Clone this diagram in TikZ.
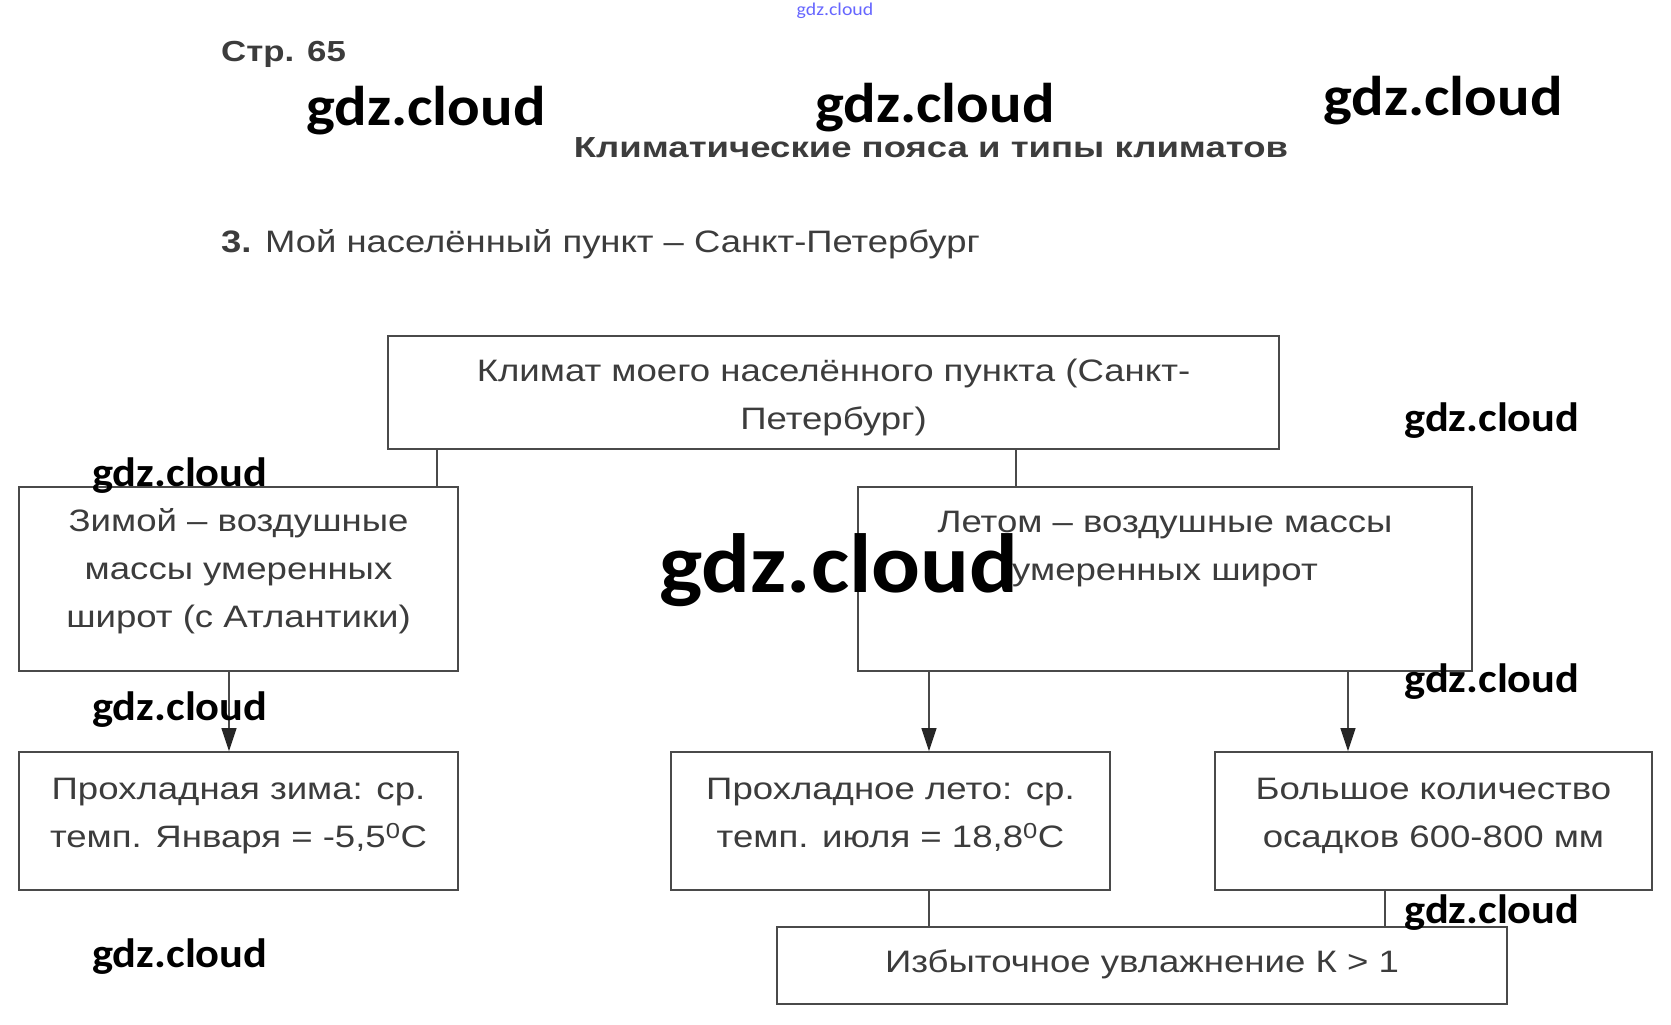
\documentclass[tikz,border=0pt]{standalone}
\usepackage{fontspec}
\setmainfont{Liberation Sans}
\newfontfamily\boxfont[FakeStretch=1.18]{Liberation Sans}
\newfontfamily\taskfont[FakeStretch=1.175]{Liberation Sans}
\newfontfamily\titlefont[FakeStretch=1.26]{Liberation Sans}
\newfontfamily\pagefont[FakeStretch=1.2]{Liberation Sans}
\newfontfamily\wmfont[FakeStretch=1.085]{Carlito}
\newfontfamily\wmsmall[FakeStretch=1.1]{Carlito}
\usetikzlibrary{arrows.meta}
\definecolor{txt}{HTML}{3C3C3C}
\definecolor{edge}{HTML}{4A4A4A}
\tikzset{
  box/.style={draw=edge, line width=1.8pt, rectangle, inner sep=0pt},
  btext/.style={text=txt, align=center, inner sep=0pt, font=\boxfont\fontsize{31}{48}\selectfont},
  conn/.style={draw=edge, line width=1.2pt},
  arr/.style={conn, -{Triangle[length=23pt,width=15pt,color=black!85]}},
  wm/.style={text=black, inner sep=0pt, font=\wmfont\bfseries\fontsize{#1}{#1}\selectfont},
}
\begin{document}
\begin{tikzpicture}[x=1pt,y=-1pt]
\useasboundingbox[fill=white] (0,0) rectangle (1671,1025);
% headings
\node[anchor=west, text=txt, inner sep=0pt, font=\pagefont\bfseries\fontsize{29}{29}\selectfont] (page) at (221,54) {Стр. 65};
\node[text=txt, inner sep=0pt, font=\titlefont\bfseries\fontsize{29}{29}\selectfont] (title) at (931,148) {Климатические пояса и типы климатов};
\node[anchor=west, text=txt, inner sep=0pt, font=\taskfont\fontsize{31}{31}\selectfont] (task) at (221,244) {\textbf{3.} Мой населённый пункт – Санкт-Петербург};
% boxes
\node[box, minimum width=891pt, minimum height=113pt] (top) at (833.5,392.5) {};
\node[btext, anchor=north] (toptext) at (833.5,358.5) {Климат моего населённого пункта (Санкт-\\Петербург)};
\node[box, minimum width=439pt, minimum height=184pt] (left) at (238.5,579) {};
\node[btext, anchor=north] (lefttext) at (238.5,508.5) {Зимой – воздушные\\массы умеренных\\широт (с Атлантики)};
\node[box, minimum width=614pt, minimum height=184pt] (right) at (1165,579) {};
\node[btext, anchor=north] (righttext) at (1165,510.5) {Летом – воздушные массы\\умеренных широт};
\node[box, minimum width=439pt, minimum height=138pt] (bl) at (238.5,821) {};
\node[btext, anchor=north] (bltext) at (238.5,777.5) {Прохладная зима: ср.\\темп. Января = -5,5\textsuperscript{0}С};
\node[box, minimum width=439pt, minimum height=138pt] (bm) at (890.5,821) {};
\node[btext, anchor=north] (bmtext) at (890.5,777.5) {Прохладное лето: ср.\\темп. июля = 18,8\textsuperscript{0}С};
\node[box, minimum width=437pt, minimum height=138pt] (br) at (1433.5,821) {};
\node[btext, anchor=north] (brtext) at (1433.5,777.5) {Большое количество\\осадков 600-800 мм};
\node[box, minimum width=730pt, minimum height=77pt] (bot) at (1142,965.5) {};
\node[btext] (bottext) at (1142,964) {Избыточное увлажнение К > 1};
% connector columns
\coordinate (c1) at (437,0);
\coordinate (c2) at (1016,0);
\coordinate (c3) at (229,0);
\coordinate (c4) at (929,0);
\coordinate (c5) at (1348,0);
\coordinate (c6) at (1385,0);
\draw[conn] (top.south -| c1) -- (left.north -| c1);
\draw[conn] (top.south -| c2) -- (right.north -| c2);
\draw[arr] (left.south -| c3) -- (bl.north -| c3);
\draw[arr] (right.south -| c4) -- (bm.north -| c4);
\draw[arr] (right.south -| c5) -- (br.north -| c5);
\draw[conn] (bm.south -| c4) -- (bot.north -| c4);
\draw[conn] (br.south -| c6) -- (bot.north -| c6);
% watermarks
\node[inner sep=0pt, text=blue!60, font=\wmsmall\fontsize{18}{18}\selectfont] (wm0) at (835,11) {gdz.cloud};
\node[wm=56] (wm1) at (426,111) {gdz.cloud};
\node[wm=56] (wm2) at (935,108) {gdz.cloud};
\node[wm=56] (wm3) at (1443,101) {gdz.cloud};
\node[wm=41] (wm4) at (1492,421) {gdz.cloud};
\node[wm=41] (wm5) at (180,476) {gdz.cloud};
\node[wm=84] (wm6) at (839,570) {gdz.cloud};
\node[wm=41] (wm7) at (180,710) {gdz.cloud};
\node[wm=41] (wm8) at (1492,682) {gdz.cloud};
\node[wm=41] (wm9) at (1492,913) {gdz.cloud};
\node[wm=41] (wm10) at (180,957) {gdz.cloud};
\end{tikzpicture}
\end{document}
